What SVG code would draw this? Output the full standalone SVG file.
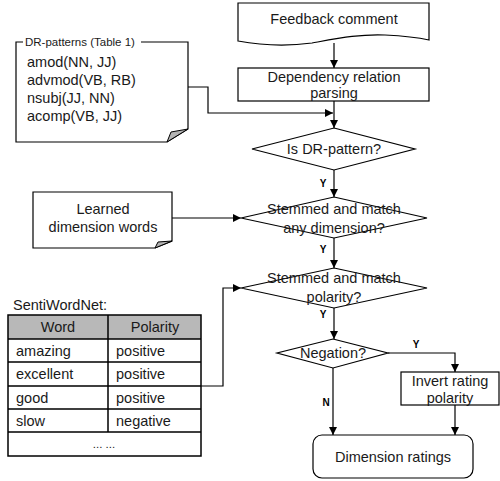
<svg xmlns="http://www.w3.org/2000/svg" width="500" height="481" viewBox="0 0 500 481">
  <style>
    .shape { fill: #ffffff; stroke: #000000; stroke-width: 1.2; }
    .fold { fill: #b3b3b3; stroke: #000000; stroke-width: 1; }
    .txt { font-family: "Liberation Sans", Arial, sans-serif; font-size: 14.5px; fill: #1a1a1a; }
    .mid { text-anchor: middle; }
    .small { font-size: 11.5px; }
    .lbl { font-family: "Liberation Sans", Arial, sans-serif; font-size: 10px; font-weight: bold; fill: #000000; text-anchor: middle; }
    .conn { fill: none; stroke: #000000; stroke-width: 1.2; }
    .grid { fill: none; stroke: #000000; stroke-width: 1.5; }
  </style>
  <defs>
    <marker id="arrow" viewBox="0 0 10 10" refX="10" refY="5" markerWidth="8" markerHeight="8" markerUnits="userSpaceOnUse" orient="auto">
      <path d="M0,0 L10,5 L0,10 Z" fill="#000000"/>
    </marker>
  </defs>

  <!-- input document -->
  <g id="feedback">
    <path class="shape" d="M238,3 H429 V40 C420,38 405,36 385,35 C360,34 340,38 312,43 C290,46 265,46 238,41 Z"/>
    <text class="txt mid" x="334" y="24">Feedback comment</text>
  </g>

  <g id="parsing">
    <rect class="shape" x="238" y="68" width="191" height="33"/>
    <text class="txt mid" x="334" y="82">Dependency relation</text>
    <text class="txt mid" x="334" y="98">parsing</text>
  </g>

  <g id="dr-patterns">
    <path class="shape" d="M23,42 H16 V142 H167 L188,129 V42 H141"/>
    <path class="fold" d="M167,142 L171,132 L188,129 Z"/>
    <text class="txt small" x="25" y="46">DR-patterns (Table 1)</text>
    <text class="txt" x="27" y="67">amod(NN, JJ)</text>
    <text class="txt" x="27" y="85">advmod(VB, RB)</text>
    <text class="txt" x="27" y="103">nsubj(JJ, NN)</text>
    <text class="txt" x="27" y="121">acomp(VB, JJ)</text>
  </g>

  <g id="is-dr-pattern">
    <path class="shape" d="M334,128 L415,149 L334,170 L252,149 Z"/>
    <text class="txt mid" x="334" y="154">Is DR-pattern?</text>
  </g>

  <g id="learned-words">
    <path class="shape" d="M33,192 H172 V241 L155,248 H33 Z"/>
    <path class="fold" d="M155,248 L158,242 L172,241 Z"/>
    <text class="txt mid" x="103" y="214">Learned</text>
    <text class="txt mid" x="103" y="232">dimension words</text>
  </g>

  <g id="match-dimension">
    <path class="shape" d="M334,197 L427,218 L334,238 L241,218 Z"/>
    <text class="txt mid" x="334" y="214">Stemmed and match</text>
    <text class="txt mid" x="334" y="233">any dimension?</text>
  </g>

  <g id="match-polarity">
    <path class="shape" d="M334,268 L427,288 L334,308 L241,288 Z"/>
    <text class="txt mid" x="334" y="283">Stemmed and match</text>
    <text class="txt mid" x="334" y="302">polarity?</text>
  </g>

  <g id="sentiwordnet">
    <text class="txt" x="13" y="310">SentiWordNet:</text>
    <rect x="8" y="315" width="193" height="24" fill="#b8b8b8"/>
    <rect class="grid" x="8" y="315" width="193" height="141"/>
    <path class="grid" d="M8,339 H201 M8,362 H201 M8,386 H201 M8,409 H201 M8,432 H201 M108,315 V432"/>
    <text class="txt mid" x="58" y="332">Word</text>
    <text class="txt mid" x="155" y="332">Polarity</text>
    <text class="txt" x="16" y="356">amazing</text>
    <text class="txt" x="116" y="356">positive</text>
    <text class="txt" x="16" y="379">excellent</text>
    <text class="txt" x="116" y="379">positive</text>
    <text class="txt" x="16" y="403">good</text>
    <text class="txt" x="116" y="403">positive</text>
    <text class="txt" x="16" y="426">slow</text>
    <text class="txt" x="116" y="426">negative</text>
    <text class="txt mid small" x="104" y="448">... ...</text>
  </g>

  <g id="negation">
    <path class="shape" d="M333,339 L388,353 L333,368 L277,353 Z"/>
    <text class="txt mid" x="333" y="358">Negation?</text>
  </g>

  <g id="invert">
    <rect class="shape" x="401" y="372" width="98" height="33"/>
    <text class="txt mid" x="450" y="386">Invert rating</text>
    <text class="txt mid" x="450" y="403">polarity</text>
  </g>

  <g id="ratings">
    <rect class="shape" x="313" y="435" width="160" height="43" rx="9" ry="9"/>
    <text class="txt mid" x="393" y="462">Dimension ratings</text>
  </g>

  <g id="connectors">
    <path class="conn" d="M334,43 V68" marker-end="url(#arrow)"/>
    <path class="conn" d="M334,101 V128" marker-end="url(#arrow)"/>
    <path class="conn" d="M188,87 H208 V113 H333" marker-end="url(#arrow)"/>
    <path class="conn" d="M334,170 V197" marker-end="url(#arrow)"/>
    <path class="conn" d="M172,218 H241" marker-end="url(#arrow)"/>
    <path class="conn" d="M334,238 V268" marker-end="url(#arrow)"/>
    <path class="conn" d="M201,386 H223 V288 H241" marker-end="url(#arrow)"/>
    <path class="conn" d="M334,308 V339" marker-end="url(#arrow)"/>
    <path class="conn" d="M388,353 H455 V372" marker-end="url(#arrow)"/>
    <path class="conn" d="M455,405 V435" marker-end="url(#arrow)"/>
    <path class="conn" d="M333,368 V435" marker-end="url(#arrow)"/>
    <text class="lbl" x="323" y="187">Y</text>
    <text class="lbl" x="323" y="253">Y</text>
    <text class="lbl" x="323" y="318">Y</text>
    <text class="lbl" x="416" y="348">Y</text>
    <text class="lbl" x="326" y="406">N</text>
  </g>
</svg>
